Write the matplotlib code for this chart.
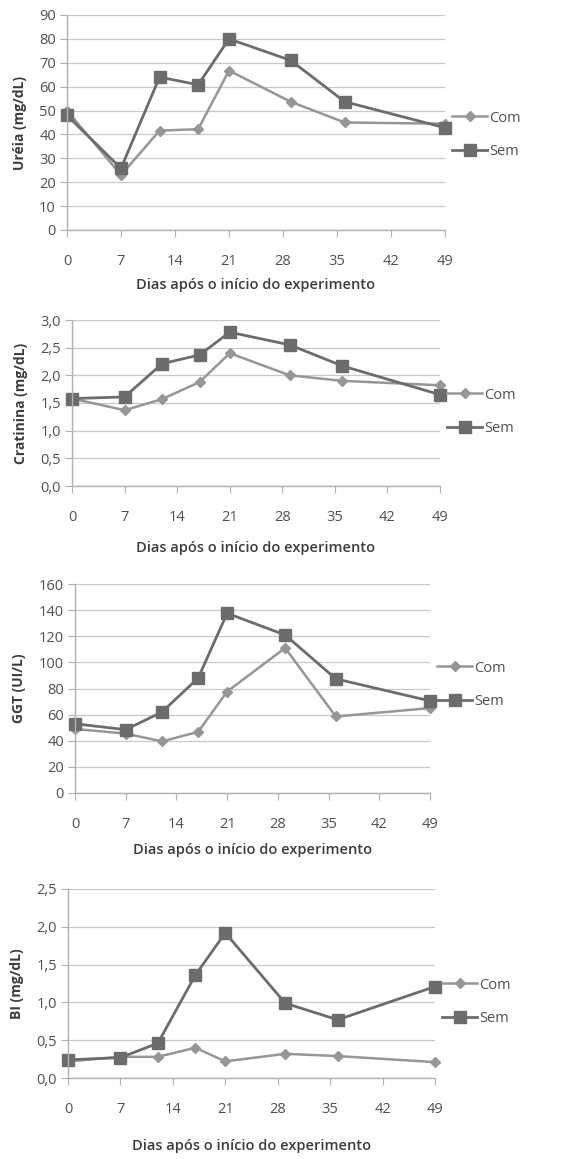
import matplotlib
matplotlib.use("Agg")
import matplotlib.pyplot as plt

plt.rcParams['font.family'] = ['Open Sans', 'DejaVu Sans']

# sampling days
days = [0, 7, 12, 17, 21, 29, 36, 49]
xticks = [0, 7, 14, 21, 28, 35, 42, 49]

# values
ureia_com = [50, 23, 41.6, 42.2, 66.7, 53.7, 45, 44.5]
ureia_sem = [48, 25.8, 64, 60.8, 80, 71, 53.7, 42.8]

creat_com = [1.58, 1.37, 1.57, 1.88, 2.40, 2.0, 1.9, 1.82]
creat_sem = [1.58, 1.61, 2.21, 2.37, 2.78, 2.55, 2.17, 1.65]

ggt_com = [49, 45.5, 39.5, 46.8, 77.7, 111, 58.6, 65]
ggt_sem = [53, 48.5, 62, 88, 137.6, 121, 87.4, 70.5]

bi_com = [0.22, 0.28, 0.28, 0.40, 0.22, 0.32, 0.29, 0.21]
bi_sem = [0.24, 0.27, 0.46, 1.36, 1.92, 0.99, 0.77, 1.21]

ylabels = ['Uréia (mg/dL)', 'Cratinina (mg/dL)', 'GGT (UI/L)', 'BI (mg/dL)']
xlabel = 'Dias após o início do experimento'

panels = [
    (ureia_com, ureia_sem, list(range(0, 91, 10)), False),
    (creat_com, creat_sem, [0, 0.5, 1.0, 1.5, 2.0, 2.5, 3.0], True),
    (ggt_com, ggt_sem, list(range(0, 161, 20)), False),
    (bi_com, bi_sem, [0, 0.5, 1.0, 1.5, 2.0, 2.5], True),
]

W, H = 579, 1159
# axes boxes in pixels: left, right, top, bottom, xlabel y, legend centre y
boxes = [
    (67, 445, 15, 230, 285, 135),
    (72, 440, 320, 486, 548, 412),
    (75, 430, 584, 793, 850, 685),
    (68, 435, 889, 1078, 1146, 1002),
]

com_color = '#969696'
sem_color = '#6c6c6c'
text_color = '#505050'

fig = plt.figure(figsize=(W / 100, H / 100), dpi=100)

for (com, sem, yt, dec), (l, r, t, b, xl, lg), lab in zip(panels, boxes, ylabels):
    ax = fig.add_axes([l / W, 1 - b / H, (r - l) / W, (b - t) / H])
    ax.plot(days, com, color=com_color, lw=1.8, marker='D', ms=5.5,
            label='Com', clip_on=False)
    ax.plot(days, sem, color=sem_color, lw=2.0, marker='s', ms=8.5,
            label='Sem', clip_on=False)
    ax.set_xlim(0, 49)
    ax.set_ylim(yt[0], yt[-1])
    ax.set_xticks(xticks)
    ax.set_yticks(yt)
    if dec:
        ax.set_yticklabels([f'{v:.1f}'.replace('.', ',') for v in yt])
    ax.grid(axis='y', color='#c8c8c8', lw=0.9)
    ax.set_axisbelow(True)
    for s in ['top', 'right']:
        ax.spines[s].set_visible(False)
    for s in ['left', 'bottom']:
        ax.spines[s].set_color('#b0b0b0')
        ax.spines[s].set_linewidth(1.0)
    ax.tick_params(axis='x', length=5, color='#b0b0b0', labelsize=10.5,
                   labelcolor=text_color, pad=12)
    ax.tick_params(axis='y', length=5, color='#b0b0b0', labelsize=10.5,
                   labelcolor=text_color, pad=3)
    ax.set_ylabel(lab, fontsize=10, fontweight='bold', color='#3c3c3c',
                  labelpad=9)
    anchor_y = 1 - (lg - t) / (b - t)
    leg = ax.legend(loc='center left', bbox_to_anchor=(1.0, anchor_y),
                    frameon=False, fontsize=10.5, handlelength=2.4,
                    handletextpad=0.15, labelspacing=1.3, borderaxespad=0.1)
    for txt in leg.get_texts():
        txt.set_color(text_color)
    fig.text((l + r) / 2 / W, 1 - xl / H, xlabel, ha='center', va='center',
             fontsize=10.5, fontweight='semibold', color='#3c3c3c')

fig.savefig('out.png', dpi=100, facecolor='white')
